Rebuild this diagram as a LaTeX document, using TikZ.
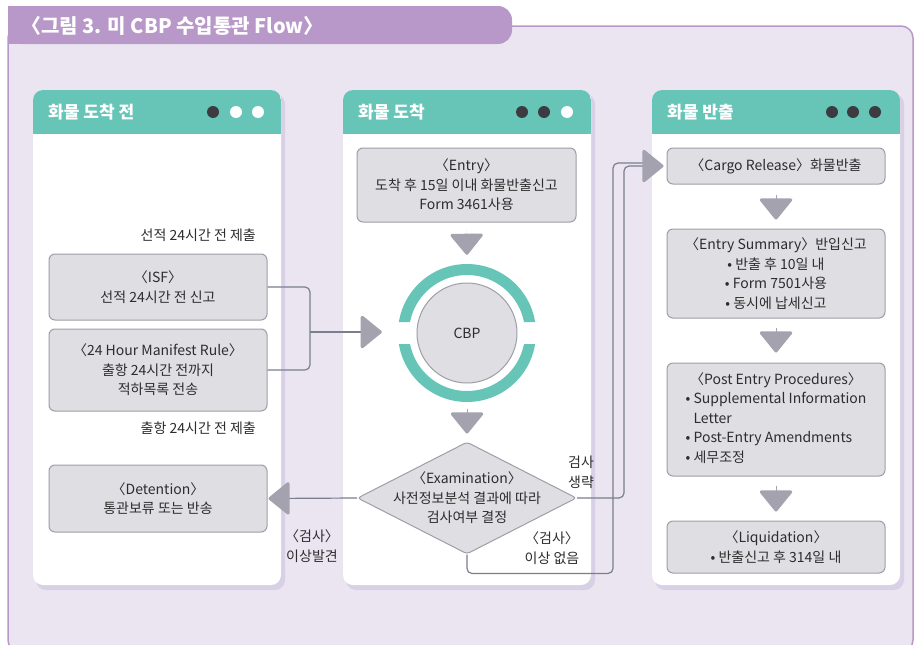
\documentclass[tikz,border=0pt]{standalone}
\usepackage{fontspec}
\setmainfont{Noto Sans CJK KR}
\usetikzlibrary{shapes.geometric,arrows.meta,calc}

\definecolor{bglav}{RGB}{235,229,242}
\definecolor{framepurple}{RGB}{184,152,200}
\definecolor{headteal}{RGB}{103,197,184}
\definecolor{boxgray}{RGB}{223,222,227}
\definecolor{boxline}{RGB}{158,158,168}
\definecolor{arrowgray}{RGB}{163,162,174}
\definecolor{linegray}{RGB}{122,127,142}
\definecolor{dotdark}{RGB}{60,60,64}
\definecolor{textdark}{RGB}{45,45,45}
\definecolor{shadowlav}{RGB}{216,208,228}

\newcommand{\flowfont}{\fontsize{14}{19.5}\selectfont}

\begin{document}
\begin{tikzpicture}[x=1pt, y=-1pt,
  box/.style={rectangle, rounded corners=6pt, draw=boxline, line width=1pt,
    fill=boxgray, text=textdark, align=center, font=\flowfont, inner sep=0pt},
  lbl/.style={text=textdark, align=center, font=\flowfont, inner sep=0pt},
  headtext/.style={text=white, font=\fontsize{17}{20}\selectfont\bfseries, inner sep=0pt},
  conn/.style={draw=linegray, line width=1.2pt},
  bigtip/.style={-{Triangle[length=22pt, width=35pt, round, line width=3pt, color=arrowgray, fill=arrowgray]}},
  downarrow/.style={draw=arrowgray, line width=0.2pt, bigtip}]

  \useasboundingbox (0,0) rectangle (916,645);
  \clip (0,0) rectangle (916,645);

  % outer frame and title tab
  \fill[bglav, rounded corners=12pt] (8,26) rectangle (913,652);
  \draw[framepurple, line width=1.5pt, rounded corners=12pt] (8,26) rectangle (913,652);
  \fill[framepurple, rounded corners=14pt] (8,6) rectangle (512,44);
  \fill[framepurple] (8,6) rectangle (40,44);
  \node[anchor=west, text=white, font=\fontsize{20}{23}\selectfont\bfseries, inner sep=0pt]
    (title) at (21,26) {〈그림 3. 미 CBP 수입통관 Flow〉};

  % three panels with teal headers
  \foreach \xl in {33,343,652} {
    \fill[shadowlav, rounded corners=10pt] (\xl+3,94) rectangle (\xl+252,590);
    \fill[white, rounded corners=10pt] (\xl,90) rectangle (\xl+248,585);
    \begin{scope}
      \clip[rounded corners=10pt] (\xl,90) rectangle (\xl+248,585);
      \fill[headteal] (\xl,90) rectangle (\xl+248,134);
    \end{scope}
  }
  \node[headtext, anchor=west] (head1) at (48,112) {화물 도착 전};
  \node[headtext, anchor=west] (head2) at (358,112) {화물 도착};
  \node[headtext, anchor=west] (head3) at (667,112) {화물 반출};

  % header dots
  \foreach \x/\c in {213/dotdark, 236/white, 258/white,
                     522/dotdark, 544/dotdark, 567/white,
                     832/dotdark, 853/dotdark, 875/dotdark}
    \fill[\c] (\x,112) circle (6pt);

  % before arrival
  \node[lbl, anchor=east] (isfnote) at (256,235) {선적 24시간 전 제출};
  \node[box, minimum width=218pt, minimum height=66pt] (isf) at (158,287)
    {〈ISF〉\\선적 24시간 전 신고};
  \node[box, minimum width=218pt, minimum height=82pt] (manifest) at (158,370)
    {〈24 Hour Manifest Rule〉\\출항 24시간 전까지\\적하목록 전송};
  \node[lbl, anchor=east] (mfnote) at (256,428) {출항 24시간 전 제출};
  \node[box, minimum width=218pt, minimum height=67pt] (detention) at (158,498.5)
    {〈Detention〉\\통관보류 또는 반송};
  \node[lbl] (foundnote) at (312,546) {〈검사〉\\이상발견};

  % arrival
  \node[box, minimum width=219pt, minimum height=74pt] (entry) at (466.5,185)
    {〈Entry〉\\도착 후 15일 이내 화물반출신고\\Form 3461사용};
  \node[circle, minimum size=138pt, inner sep=0pt] (ring) at (467,333) {};
  \begin{scope}
    \clip (380,250) rectangle (555,322) (380,344) rectangle (555,415);
    \draw[headteal, line width=11pt] (ring.center) circle (63.5pt);
  \end{scope}
  \node[circle, draw=boxline, fill=boxgray, line width=1pt, minimum size=100pt,
    text=textdark, font=\flowfont] (cbp) at (ring.center) {CBP};
  \node[diamond, draw=boxline, fill=boxgray, line width=1pt, rounded corners=3pt,
    minimum width=219pt, minimum height=112pt, inner sep=0pt] (exam) at (467,498) {};
  \node[lbl] (examtext) at (exam.center)
    {〈Examination〉\\사전정보분석 결과에 따라\\검사여부 결정};
  \node[lbl] (skipnote) at (581,472) {검사\\생략};
  \node[lbl] (passnote) at (552,548) {〈검사〉\\이상 없음};

  % release
  \node[box, minimum width=218pt, minimum height=36pt] (release) at (776,166)
    {〈Cargo Release〉화물반출};
  \node[box, minimum width=218pt, minimum height=89pt] (summary) at (776,273.5)
    {〈Entry Summary〉반입신고\\• 반출 후 10일 내\\• Form 7501사용\\• 동시에 납세신고};
  \node[box, minimum width=218pt, minimum height=113pt] (post) at (776,419.5)
    {\begin{tabular}{@{}l@{}}
       \multicolumn{1}{@{}c@{}}{〈Post Entry Procedures〉}\\
       • Supplemental Information\\
       \phantom{• }Letter\\
       • Post-Entry Amendments\\
       • 세무조정
     \end{tabular}};
  \node[box, minimum width=218pt, minimum height=52pt] (liquid) at (776,547)
    {〈Liquidation〉\\• 반출신고 후 314일 내};

  % connectors
  \coordinate (brk) at (310,332);
  \coordinate (relbase) at (645,163);
  \draw[conn, rounded corners=5pt] (isf.east) -| (brk) |- (manifest.east);
  \draw[conn, bigtip, shorten >=16pt] (brk) -- (brk -| ring.west);
  \draw[downarrow, shorten <=8pt, shorten >=9pt] (entry.south) -- (ring.north);
  \draw[downarrow, shorten <=7pt, shorten >=8pt] (ring.south) -- (exam.north);
  \draw[conn, bigtip, shorten >=1pt] (exam.west) -- (detention.east);
  \draw[conn, rounded corners=5pt] (exam.south) |- ++(146,19) |- (relbase);
  \draw[conn, rounded corners=5pt, bigtip, shorten >=3pt]
    (exam.east) -- ++(47,0) |- (release.west);
  \draw[downarrow, shorten <=10pt, shorten >=9pt] (release.south) -- (summary.north);
  \draw[downarrow, shorten <=9pt, shorten >=10pt] (summary.south) -- (post.north);
  \draw[downarrow, shorten <=9pt, shorten >=9pt] (post.south) -- (liquid.north);

\end{tikzpicture}
\end{document}
